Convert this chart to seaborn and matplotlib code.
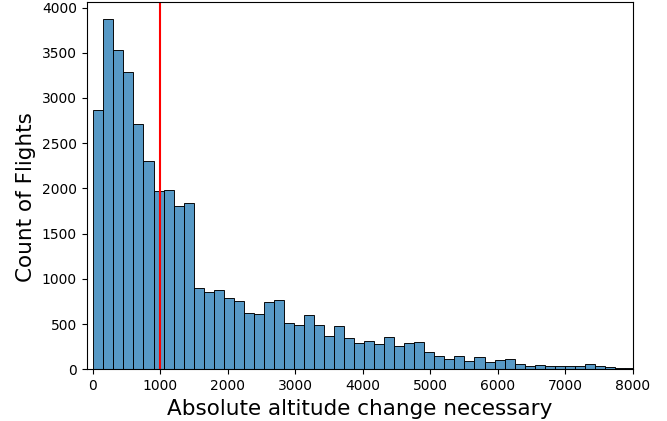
import matplotlib
matplotlib.use("Agg")
import matplotlib.pyplot as plt
import numpy as np
import pandas as pd
import seaborn as sns

# histogram counts, one per bin
bin_start = 9
bin_width = 148.6
counts = [
    2869, 3870, 3532, 3283, 2707, 2303, 1973, 1984, 1808, 1841,
    895, 855, 877, 785, 759, 627, 613, 745, 771, 507,
    492, 602, 492, 371, 481, 345, 294, 308, 283, 356,
    253, 294, 305, 187, 143, 114, 143, 95, 132, 77,
    106, 117, 62, 37, 51, 37, 37, 37, 37, 55,
    37, 26, 11, 11,
]

n_bins = len(counts)
bin_end = bin_start + bin_width * n_bins
df = pd.DataFrame({
    "altitude": bin_start + bin_width * (np.arange(n_bins) + 0.5),
    "count": counts,
})

fig = plt.figure(figsize=(6.67, 4.21), dpi=100)
ax = fig.add_axes([0.13, 0.1228, 0.8186, 0.873])

sns.histplot(data=df, x="altitude", weights="count", bins=n_bins,
             binrange=(bin_start, bin_end), ax=ax)
ax.axvline(1000, color="red")

ax.set_xlim(-89, 8000)
ax.set_xlabel("Absolute altitude change necessary", fontsize=15.5)
ax.set_ylabel("Count of Flights", fontsize=15.5)
ax.yaxis.label.set_y(0.469)

fig.savefig("out.png", dpi=100)
